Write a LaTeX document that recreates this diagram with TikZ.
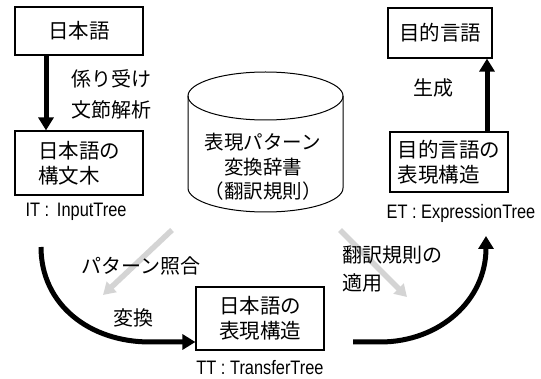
\documentclass[tikz,border=0pt]{standalone}
\usepackage{fontspec}
\setmainfont{Noto Sans CJK JP}
\newfontfamily\cjkfont{Noto Sans CJK JP}
\newfontfamily\latfont[FakeStretch=0.84]{Liberation Sans}
\usetikzlibrary{arrows.meta}
\definecolor{lgray}{RGB}{212,212,212}
\tikzset{
  box/.style={draw, line width=1.2pt, align=left, inner sep=0pt,
    font=\cjkfont\fontsize{20.5}{25}\selectfont},
  lbl/.style={align=left, inner sep=0pt, font=\cjkfont\fontsize{20}{31}\selectfont},
  lat/.style={inner sep=0pt, font=\latfont\fontsize{19.5}{20}\selectfont},
  thick arrow/.style={line width=5pt, -{Triangle[length=13pt,width=15pt]}},
  gray arrow/.style={lgray, line width=5.5pt, -{Triangle[length=12pt,width=14pt]}},
  cyl/.style={line width=1pt}
}
\begin{document}
\begin{tikzpicture}[x=1pt,y=-1pt]
\useasboundingbox[fill=white] (0,0) rectangle (541,379);
% gray arrows (behind the labels)
\coordinate (g1s) at (172,230);
\coordinate (g1e) at (103,295);
\coordinate (g2s) at (340,230);
\coordinate (g2e) at (407,297);
\draw[gray arrow] (g1s) -- (g1e);
\draw[gray arrow] (g2s) -- (g2e);
% boxes
\node[box, minimum width=128pt, minimum height=48pt] (ja) at (79,31) {日本語};
\node[box, minimum width=128pt, minimum height=64pt] (jt) at (79,163) {日本語の\\構文木};
\node[box, minimum width=104pt, minimum height=50pt] (tl) at (440,33) {目的言語};
\node[box, minimum width=118pt, minimum height=60pt] (te) at (449,162) {目的言語の\\表現構造};
\node[box, minimum width=128pt, minimum height=63pt] (je) at (260,318.5) {日本語の\\表現構造};
% tree labels
\node[lat] (it) at (76,212) {IT :\, InputTree};
\node[lat] (et) at (461,213) {ET : ExpressionTree};
\node[lat] (tt) at (260,367.5) {TT : TransferTree};
% cylinder
\draw[cyl] (188,96) -- (188,188) arc[start angle=180, end angle=0, x radius=77.5, y radius=24] -- (343,96);
\draw[cyl] (265.5,96) ellipse[x radius=77.5, y radius=24];
\node[align=center, inner sep=0pt, font=\cjkfont\fontsize{19.5}{24.5}\selectfont] (dict) at (263,167) {表現パターン\\変換辞書\\（翻訳規則）};
% labels
\node[lbl, anchor=west] (kakari) at (71,94) {係り受け\\文節解析};
\node[lbl] (seisei) at (433,88) {生成};
\node[lbl] (pm) at (141,266) {パターン照合};
\node[lbl] (hk) at (133,318) {変換};
\node[align=left, inner sep=0pt, font=\cjkfont\fontsize{20}{28}\selectfont, anchor=west] (tekiyo) at (342,269) {翻訳規則の\\適用};
% arrows
\draw[thick arrow] (ja.south -| 46,0) -- (jt.north -| 46,0);
\draw[thick arrow] (te.north -| 487,0) -- (tl.south -| 487,0);
\coordinate (c1) at (41,247);
\coordinate (c2) at (353,342);
\draw[thick arrow] (c1) .. controls (41,305) and (90,342) .. (150,342) -- (je.west |- 0,342);
\draw[thick arrow] (c2) -- (380,342) .. controls (440,342) and (486,300) .. (486,236);
\end{tikzpicture}
\end{document}
